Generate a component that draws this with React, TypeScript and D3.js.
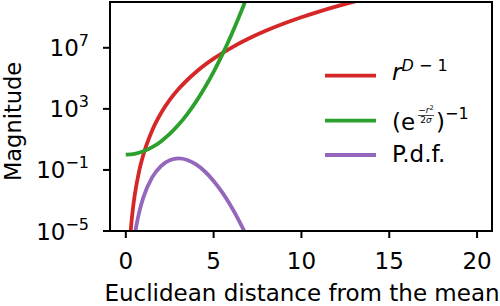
import React from "react";
import * as d3 from "d3";

// radial distance samples and the three curves
const rPow = [0.27, 0.3, 0.4, 0.5, 0.75, 1, 1.5, 2, 2.5, 3, 4, 5, 6, 7, 8, 9, 10, 11, 12, 13, 14];
const powVals = [7.6e-6, 2e-5, 2.6e-4, 1.95e-3, 0.075, 1, 38.4, 512, 3815, 19683, 2.62e5, 1.95e6, 1.0e7, 4.04e7, 1.34e8, 3.87e8, 1e9, 2.36e9, 5.16e9, 1.06e10, 2.07e10];

const rExp = [0, 0.5, 1, 1.5, 2, 2.5, 3, 3.5, 4, 4.5, 5, 5.5, 6, 6.5, 7];
const expVals = [1, 1.13, 1.65, 3.08, 7.39, 22.8, 90, 457, 2981, 25200, 2.68e5, 3.7e6, 6.57e7, 1.5e9, 4.4e10];

const rPdf = [0.5, 0.6, 0.8, 1, 1.5, 2, 2.5, 3, 3.5, 4, 4.5, 5, 5.5, 6, 6.5, 7];
const pdfVals = [4.5e-6, 2.2e-5, 2.5e-4, 1.58e-3, 0.0325, 0.18, 0.436, 0.57, 0.449, 0.229, 0.0789, 0.019, 3.24e-3, 4.0e-4, 3.6e-5, 2.4e-6];

const xTicks = [0, 5, 10, 15, 20];
const yTicks = [1e-5, 1e-1, 1e3, 1e7];
const yTickExp = ["−5", "−1", "3", "7"];

const W = 500;
const H = 306;
const left = 110;
const right = 492;
const top = 2;
const bottom = 231;
const font = "DejaVu Sans";
const fs = 23;

export default function App() {
  const x = d3.scaleLinear().domain([-0.9, 20.85]).range([left, right]);
  const y = d3.scaleLog().domain([1e-5, 1e10]).range([bottom, top]);

  const line = (rs: number[], vs: number[]) =>
    d3
      .line<number>()
      .x((_, i) => x(rs[i]))
      .y((v) => y(v))
      .curve(d3.curveMonotoneX)(vs) || "";

  const series = [
    { d: line(rPow, powVals), color: "#d62728" },
    { d: line(rExp, expVals), color: "#2ca02c" },
    { d: line(rPdf, pdfVals), color: "#9467bd" },
  ];

  const legY = [75.7, 120.7, 155];

  return (
    <svg
      width={W}
      height={H}
      style={{ position: "absolute", left: 0, top: 0 }}
      fontFamily={font}
    >
      <defs>
        <clipPath id="plot">
          <rect x={left} y={top} width={right - left} height={bottom - top} />
        </clipPath>
      </defs>
      <rect width={W} height={H} fill="white" />

      <g clipPath="url(#plot)">
        {series.map((s, i) => (
          <path key={i} d={s.d} fill="none" stroke={s.color} strokeWidth={3.8} />
        ))}
      </g>

      {/* spines */}
      <rect
        x={left}
        y={top}
        width={right - left}
        height={bottom - top}
        fill="none"
        stroke="black"
        strokeWidth={2}
      />

      {/* x ticks */}
      {xTicks.map((t) => (
        <g key={t}>
          <line x1={x(t)} x2={x(t)} y1={bottom} y2={bottom + 7} stroke="black" strokeWidth={2} />
          <text x={x(t)} y={269} fontSize={fs} textAnchor="middle">
            {t}
          </text>
        </g>
      ))}

      {/* y ticks */}
      {yTicks.map((t, i) => (
        <g key={t}>
          <line x1={left - 7} x2={left} y1={y(t)} y2={y(t)} stroke="black" strokeWidth={2} />
          <text x={89} y={y(t) + 8.5} fontSize={fs} textAnchor="end">
            10
            <tspan dy={-10} fontSize={16}>
              {yTickExp[i]}
            </tspan>
          </text>
        </g>
      ))}

      <text x={302} y={301} fontSize={fs} textAnchor="middle">
        Euclidean distance from the mean
      </text>
      <text transform="translate(21,121.5) rotate(-90)" fontSize={22.5} textAnchor="middle">
        Magnitude
      </text>

      {/* legend */}
      {series.map((s, i) => (
        <line key={i} x1={325} x2={376} y1={legY[i]} y2={legY[i]} stroke={s.color} strokeWidth={3.8} />
      ))}
      <text x={392} y={80} fontSize={fs}>
        <tspan fontStyle="italic">r</tspan>
        <tspan dy={-9} fontSize={16} fontStyle="italic">D</tspan>
        <tspan fontSize={16}> − 1</tspan>
      </text>
      <text x={392} y={130} fontSize={fs}>
        (e
      </text>
      <text x={426} y={113} fontSize={9} textAnchor="middle">
        −<tspan fontStyle="italic">r</tspan>
        <tspan dy={-3.5} fontSize={6.5}>2</tspan>
      </text>
      <line x1={418} x2={434} y1={115.5} y2={115.5} stroke="black" strokeWidth={0.7} />
      <text x={426} y={123} fontSize={9} textAnchor="middle">
        2<tspan fontStyle="italic">σ</tspan>
      </text>
      <text x={436} y={130} fontSize={fs}>
        )
        <tspan dy={-11} fontSize={16}>−1</tspan>
      </text>
      <text x={392} y={162} fontSize={fs}>
        P.d.f.
      </text>
    </svg>
  );
}
